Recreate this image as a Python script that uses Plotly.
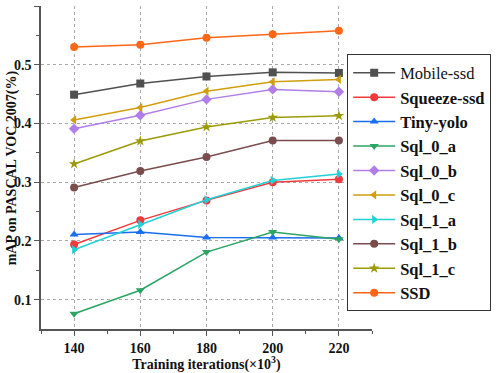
import plotly.graph_objects as go

iterations = [140, 160, 180, 200, 220]
series_names = ["Mobile-ssd", "Squeeze-ssd", "Tiny-yolo", "Sql_0_a", "Sql_0_b",
                "Sql_0_c", "Sql_1_a", "Sql_1_b", "Sql_1_c", "SSD"]
mobile_ssd = [0.449, 0.468, 0.480, 0.487, 0.486]
squeeze_ssd = [0.194, 0.235, 0.269, 0.300, 0.305]
tiny_yolo = [0.211, 0.215, 0.206, 0.206, 0.205]
sql_0_a = [0.076, 0.116, 0.181, 0.215, 0.203]
sql_0_b = [0.391, 0.414, 0.441, 0.458, 0.454]
sql_0_c = [0.406, 0.427, 0.455, 0.471, 0.475]
sql_1_a = [0.185, 0.228, 0.270, 0.303, 0.314]
sql_1_b = [0.291, 0.319, 0.343, 0.371, 0.371]
sql_1_c = [0.331, 0.370, 0.394, 0.410, 0.413]
ssd = [0.530, 0.534, 0.546, 0.552, 0.558]

values = [mobile_ssd, squeeze_ssd, tiny_yolo, sql_0_a, sql_0_b,
          sql_0_c, sql_1_a, sql_1_b, sql_1_c, ssd]
colors = ["#505050", "#f23a3c", "#1a6ef0", "#2aa563", "#b17ee8",
          "#d19e0d", "#22d0d8", "#7a4c4c", "#9b9b07", "#ff6616"]
symbols = ["square", "circle", "triangle-up", "triangle-down", "diamond",
           "triangle-left", "triangle-right", "circle", "star", "circle"]
sizes = [8, 8, 8, 8, 8, 8, 8, 8, 8, 8]

fig = go.Figure()
for i, (name, vals) in enumerate(zip(series_names, values)):
    legend_name = name if name == "Mobile-ssd" else "<b>" + name + "</b>"
    fig.add_trace(go.Scatter(
        x=iterations, y=vals, mode="lines+markers", name=legend_name,
        line=dict(color=colors[i], width=1.5),
        marker=dict(symbol=symbols[i], size=sizes[i], color=colors[i]),
    ))

axis_font = dict(family="Liberation Serif", size=14, color="#111111")
fig.update_layout(
    width=498, height=373,
    margin=dict(l=41, r=126, t=6, b=40),
    paper_bgcolor="white", plot_bgcolor="white",
    font=dict(family="Liberation Serif", color="#111111"),
    showlegend=True,
    legend=dict(x=0.925, y=0.85, xanchor="left", yanchor="top",
                bordercolor="#333333", borderwidth=1, bgcolor="white",
                font=dict(family="Liberation Serif", size=16.5, color="#111111"),
                tracegroupgap=0, itemwidth=42),
    xaxis=dict(range=[130, 230], tickvals=[140, 160, 180, 200, 220],
               ticktext=["<b>140</b>", "<b>160</b>", "<b>180</b>", "<b>200</b>", "<b>220</b>"],
               showline=True, linecolor="#555555", linewidth=1.5,
               ticks="outside", ticklen=5, tickcolor="#555555",
               minor=dict(tickvals=[130, 150, 170, 190, 210, 230], ticks="outside", ticklen=3, tickcolor="#555555"),
               showgrid=True, gridcolor="#aaaaaa", griddash="dot", gridwidth=1,
               zeroline=False, tickfont=axis_font,
               title=dict(text="<b>Training iterations(×10<sup>3</sup>)</b>",
                          font=dict(family="Liberation Serif", size=14), standoff=2)),
    yaxis=dict(range=[0.05, 0.6], tickvals=[0.1, 0.2, 0.3, 0.4, 0.5, 0.6],
               ticktext=["<b>0.1</b>", "<b>0.2</b>", "<b>0.3</b>", "<b>0.4</b>", "<b>0.5</b>", "<b>0.6</b>"],
               showline=True, linecolor="#555555", linewidth=1.5,
               ticks="outside", ticklen=5, tickcolor="#555555",
               minor=dict(tickvals=[0.15, 0.25, 0.35, 0.45, 0.55], ticks="outside", ticklen=3, tickcolor="#555555"),
               showgrid=True, gridcolor="#aaaaaa", griddash="dot", gridwidth=1,
               zeroline=False, tickfont=axis_font),
)
fig.add_annotation(xref="paper", yref="paper", x=-0.088, y=0.5, xanchor="center", yanchor="middle",
                   text="<b>mAP on PASCAL VOC 2007(%)</b>", textangle=-90, showarrow=False,
                   font=dict(family="Liberation Serif", size=14, color="#111111"))
fig.write_html("out.html", config={"displayModeBar": False},
               post_script="document.body.style.margin='0px';")
